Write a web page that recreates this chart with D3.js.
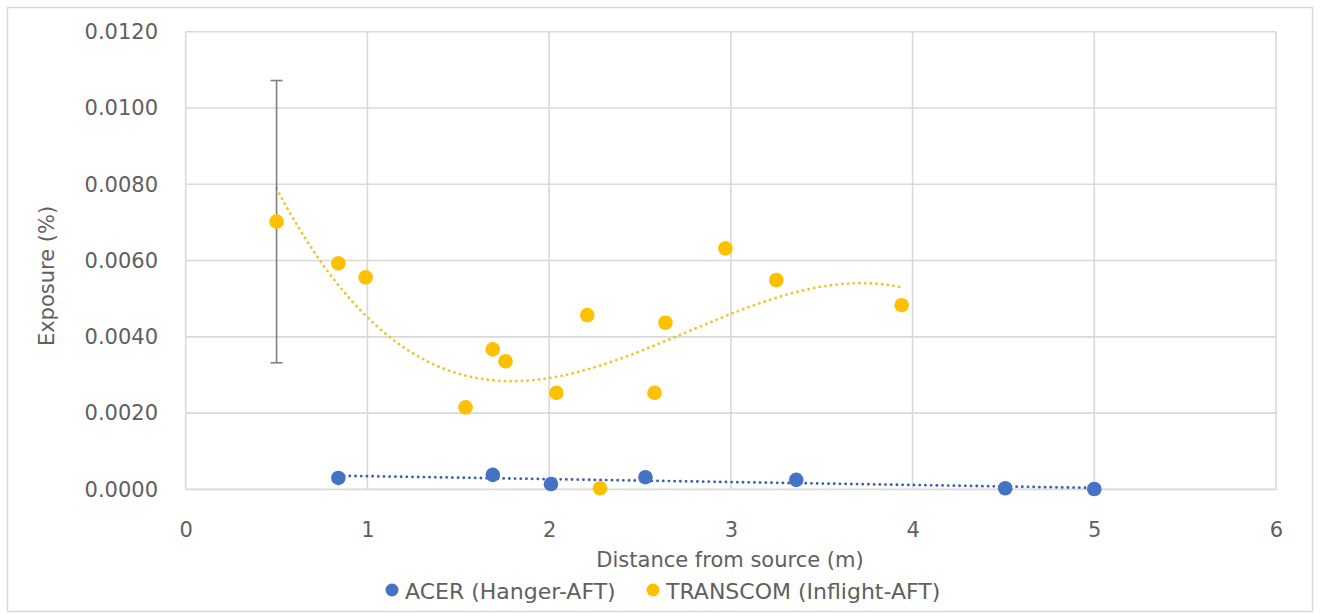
<!DOCTYPE html>
<html>
<head>
<meta charset="utf-8">
<script src="https://cdn.jsdelivr.net/npm/d3@7"></script>
<style>
  html, body { margin: 0; padding: 0; background: #fff; }
  svg { display: block; font-family: "DejaVu Sans", sans-serif; }
</style>
</head>
<body>
<svg id="chart" width="1329" height="614"></svg>
<script>
// Measured exposure vs distance from source
const acerDistance = [0.84, 1.69, 2.01, 2.53, 3.36, 4.51, 5.00];
const acerExposure = [0.00030, 0.00038, 0.00014, 0.00032, 0.00025, 0.00003, 0.00001];

const transcomDistance = [0.50, 0.84, 0.99, 1.54, 1.69, 1.76, 2.04, 2.21, 2.28, 2.58, 2.64, 2.97, 3.25, 3.94];
const transcomExposure = [0.00702, 0.00593, 0.00556, 0.00215, 0.00367, 0.00336, 0.00253, 0.00457, 0.00003, 0.00253, 0.00437, 0.00632, 0.00549, 0.00483];

// Error bar on the first TRANSCOM point (±)
const transcomErrorIndex = 0;
const transcomErrorAmount = 0.0037;

const xTicks = [0, 1, 2, 3, 4, 5, 6];
const yTicks = [0, 0.002, 0.004, 0.006, 0.008, 0.010, 0.012];

const seriesNames = ["ACER (Hanger-AFT)", "TRANSCOM (Inflight-AFT)"];
const seriesColors = ["#4472C4", "#FFC000"];

const textColor = "#606060";
const fontSize = 21;

const svg = d3.select("#chart");

const x = d3.scaleLinear().domain([0, 6]).range([185.7, 1276]);
const y = d3.scaleLinear().domain([0, 0.012]).range([489.4, 31.7]);

// Outer chart frame
svg.append("rect")
  .attr("x", 7.5).attr("y", 7.5).attr("width", 1305).attr("height", 604)
  .attr("fill", "#fff").attr("stroke", "#d9d9d9").attr("stroke-width", 1.5);

// Gridlines
const grid = svg.append("g");
grid.selectAll("line.h").data(yTicks).join("line")
  .attr("x1", x(0)).attr("x2", x(6))
  .attr("y1", d => y(d)).attr("y2", d => y(d))
  .attr("stroke", "#d9d9d9").attr("stroke-width", 1.6);
grid.selectAll("line.v").data(xTicks).join("line")
  .attr("y1", y(0)).attr("y2", y(0.012))
  .attr("x1", d => x(d)).attr("x2", d => x(d))
  .attr("stroke", "#d9d9d9").attr("stroke-width", 1.6);

// Axes (tick labels only)
const yAxis = d3.axisLeft(y).tickValues(yTicks).tickSize(0).tickPadding(0)
  .tickFormat(d3.format(".4f"));
const gy = svg.append("g").attr("transform", `translate(158,0)`).call(yAxis);
gy.select(".domain").remove();
gy.selectAll("text").attr("fill", textColor).attr("font-size", fontSize)
  .attr("font-family", "DejaVu Sans, sans-serif");

const xAxis = d3.axisBottom(x).tickValues(xTicks).tickSize(0).tickPadding(0)
  .tickFormat(d3.format("d"));
const gx = svg.append("g").attr("transform", `translate(0,${y(0) + 32.5})`).call(xAxis);
gx.select(".domain").remove();
gx.selectAll("text").attr("fill", textColor).attr("font-size", fontSize)
  .attr("font-family", "DejaVu Sans, sans-serif");

// Axis titles
svg.append("text")
  .attr("x", 730).attr("y", 566.5)
  .attr("text-anchor", "middle").attr("fill", textColor)
  .attr("font-size", fontSize).text("Distance from source (m)");
svg.append("text")
  .attr("transform", `translate(54,276) rotate(-90)`)
  .attr("text-anchor", "middle").attr("fill", textColor)
  .attr("font-size", fontSize).text("Exposure (%)");

// Least-squares polynomial fit
function polyFit(xs, ys, order) {
  const n = order + 1;
  const A = Array.from({length: n}, () => new Array(n + 1).fill(0));
  for (let k = 0; k < xs.length; k++) {
    for (let i = 0; i < n; i++) {
      for (let j = 0; j < n; j++) A[i][j] += Math.pow(xs[k], i + j);
      A[i][n] += ys[k] * Math.pow(xs[k], i);
    }
  }
  for (let c = 0; c < n; c++) {
    let p = c;
    for (let r = c + 1; r < n; r++) if (Math.abs(A[r][c]) > Math.abs(A[p][c])) p = r;
    [A[c], A[p]] = [A[p], A[c]];
    for (let r = 0; r < n; r++) {
      if (r === c) continue;
      const f = A[r][c] / A[c][c];
      for (let j = c; j <= n; j++) A[r][j] -= f * A[c][j];
    }
  }
  return A.map((row, i) => row[n] / row[i]);
}
const evalPoly = (co, t) => co.reduce((s, c, i) => s + c * Math.pow(t, i), 0);

function trendPoints(xs, ys, order) {
  const co = polyFit(xs, ys, order);
  const [lo, hi] = d3.extent(xs);
  return d3.range(0, 201).map(i => {
    const t = lo + (hi - lo) * i / 200;
    return [t, evalPoly(co, t)];
  });
}

const line = d3.line().x(d => x(d[0])).y(d => y(d[1]));

// Trendlines (round-dot style)
svg.append("path")
  .attr("d", line(trendPoints(transcomDistance, transcomExposure, 3)))
  .attr("fill", "none").attr("stroke", "#EEC52A").attr("stroke-width", 2.8)
  .attr("stroke-dasharray", "0.1 5.6").attr("stroke-linecap", "round");
svg.append("path")
  .attr("d", line(trendPoints(acerDistance, acerExposure, 1)))
  .attr("fill", "none").attr("stroke", "#3E5FA8").attr("stroke-width", 2.8)
  .attr("stroke-dasharray", "0.1 5.6").attr("stroke-linecap", "round");

// Error bar
const ex = x(transcomDistance[transcomErrorIndex]);
const ev = transcomExposure[transcomErrorIndex];
const eb = svg.append("g").attr("stroke", "#7f7f7f").attr("stroke-width", 1.6);
eb.append("line").attr("x1", ex).attr("x2", ex)
  .attr("y1", y(ev + transcomErrorAmount)).attr("y2", y(ev - transcomErrorAmount));
[ev + transcomErrorAmount, ev - transcomErrorAmount].forEach(v => {
  eb.append("line").attr("x1", ex - 6).attr("x2", ex + 6)
    .attr("y1", y(v)).attr("y2", y(v));
});

// Markers
svg.append("g").selectAll("circle")
  .data(acerDistance.map((d, i) => [d, acerExposure[i]]))
  .join("circle")
  .attr("cx", d => x(d[0])).attr("cy", d => y(d[1])).attr("r", 7.3)
  .attr("fill", seriesColors[0]);
svg.append("g").selectAll("circle")
  .data(transcomDistance.map((d, i) => [d, transcomExposure[i]]))
  .join("circle")
  .attr("cx", d => x(d[0])).attr("cy", d => y(d[1])).attr("r", 7.3)
  .attr("fill", seriesColors[1]);

// Legend
const legendItems = [{x: 392, name: seriesNames[0], color: seriesColors[0]},
                     {x: 653, name: seriesNames[1], color: seriesColors[1]}];
const lg = svg.append("g");
legendItems.forEach(it => {
  lg.append("circle").attr("cx", it.x).attr("cy", 590).attr("r", 6.5).attr("fill", it.color);
  lg.append("text").attr("x", it.x + 13).attr("y", 598.5)
    .attr("fill", textColor).attr("font-size", 22).text(it.name);
});
</script>
</body>
</html>
